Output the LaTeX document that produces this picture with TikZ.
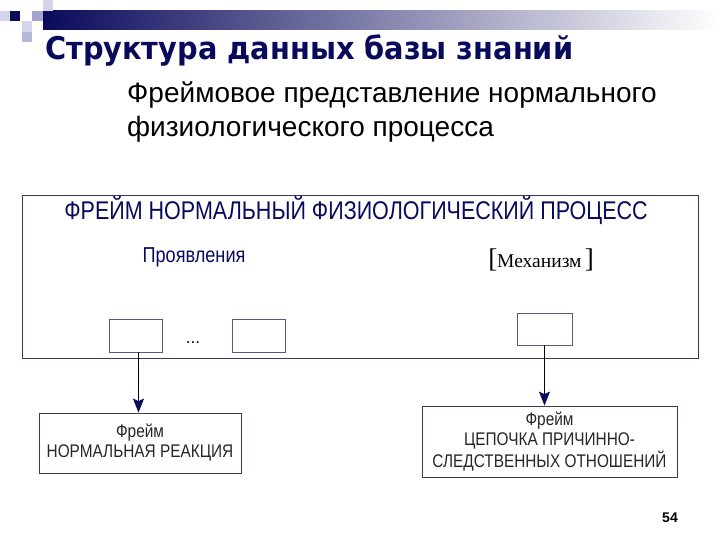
\documentclass[tikz,border=0pt]{standalone}
\usepackage{fontspec}
\setmainfont{Liberation Sans}
\newfontfamily\titlefont[FakeStretch=0.92]{DejaVu Sans}
\newfontfamily\narrowfont[FakeStretch=0.84]{Liberation Sans}
\newfontfamily\seriffont{Liberation Serif}
\usetikzlibrary{arrows.meta,positioning}
\definecolor{navy}{HTML}{0A0A5C}
\definecolor{framenavy}{HTML}{3A3A5E}
\definecolor{boxgray}{HTML}{5A5A80}
\definecolor{lav}{HTML}{A4A4D0}
\definecolor{lavlight}{HTML}{D4D4EA}
\newcommand\bigbr[1]{{\fontsize{27}{27}\selectfont #1}}

\begin{document}
\begin{tikzpicture}[x=1pt, y=-1pt,
    frametext/.style = {font=\narrowfont\fontsize{25.6}{28}\selectfont, text=navy, inner sep=0pt},
    slot/.style = {draw=boxgray, line width=0.8pt, minimum width=53pt, minimum height=33pt, inner sep=0pt},
    subframe/.style = {draw=framenavy, line width=0.8pt, align=center, inner sep=0pt,
        font=\narrowfont\fontsize{18.3}{20}\selectfont, text=black!85},
    link/.style = {draw=black!80!navy, line width=0.8pt, -{Stealth[length=14pt,width=11pt,inset=2.5pt,color=navy]}}]
  \useasboundingbox (0,0) rectangle (720,540);
  % top band and squares
  \shade[left color=navy, right color=white] (43,11) rectangle (720,30);
  \fill[navy] (10,11) rectangle (20,21);
  \fill[lavlight] (0,11) rectangle (10,21);
  \fill[lav] (32,11) rectangle (43,21);
  \fill[lavlight] (43,0) rectangle (53,11);
  \fill[lavlight] (22,21) rectangle (32,32);
  \fill[lav!80] (22,32) rectangle (32,42);

  % headings
  \node[anchor=base west, inner sep=0pt, text=navy, font=\titlefont\bfseries\fontsize{31.3}{34}\selectfont] (title) at (45,60) {Структура данных базы знаний};
  \node[anchor=base west, inner sep=0pt, font=\fontsize{28}{32}\selectfont] (sub1) at (127,103) {Фреймовое представление нормального};
  \node[anchor=base west, inner sep=0pt, font=\fontsize{28}{32}\selectfont] (sub2) at (127,137) {физиологического процесса};

  % main frame
  \node[draw=framenavy, line width=0.8pt, minimum width=676pt, minimum height=163pt, inner sep=0pt] (frame) at (360,276.5) {};
  \node[frametext] (fname) at (356,210) {ФРЕЙМ НОРМАЛЬНЫЙ ФИЗИОЛОГИЧЕСКИЙ ПРОЦЕСС};
  \node[frametext, font=\narrowfont\fontsize{21.6}{24}\selectfont] (manif) at (194,257) {Проявления};
  \node[inner sep=0pt, font=\seriffont\fontsize{19.5}{24}\selectfont] (mech) at (541,260) {\bigbr{[}Механизм\,\bigbr{]}};

  \node[slot] (s1) at (135.5,335.5) {};
  \node[slot] (s2) at (258.5,335.5) {};
  \node[inner sep=0pt, font=\fontsize{17}{20}\selectfont] (dots) at (193,343) {...};
  \node[slot, minimum width=55pt, minimum height=32pt] (s3) at (544.5,329) {};

  % lower frames
  \node[subframe, minimum width=202pt, minimum height=60pt] (react) at (140,443) {Фрейм\\НОРМАЛЬНАЯ РЕАКЦИЯ};
  \node[subframe, minimum width=255pt, minimum height=71pt] (chain) at (549.5,441.5) {Фрейм\\ЦЕПОЧКА ПРИЧИННО-\\СЛЕДСТВЕННЫХ ОТНОШЕНИЙ};

  \draw[link] ([xshift=3pt]s1.south) -- ([xshift=3pt]s1.south |- react.north);
  \draw[link] (s3.south) -- (s3.south |- chain.north);

  \node[font=\bfseries\fontsize{14}{16}\selectfont, inner sep=0pt] (page) at (670,518) {54};
\end{tikzpicture}
\end{document}
